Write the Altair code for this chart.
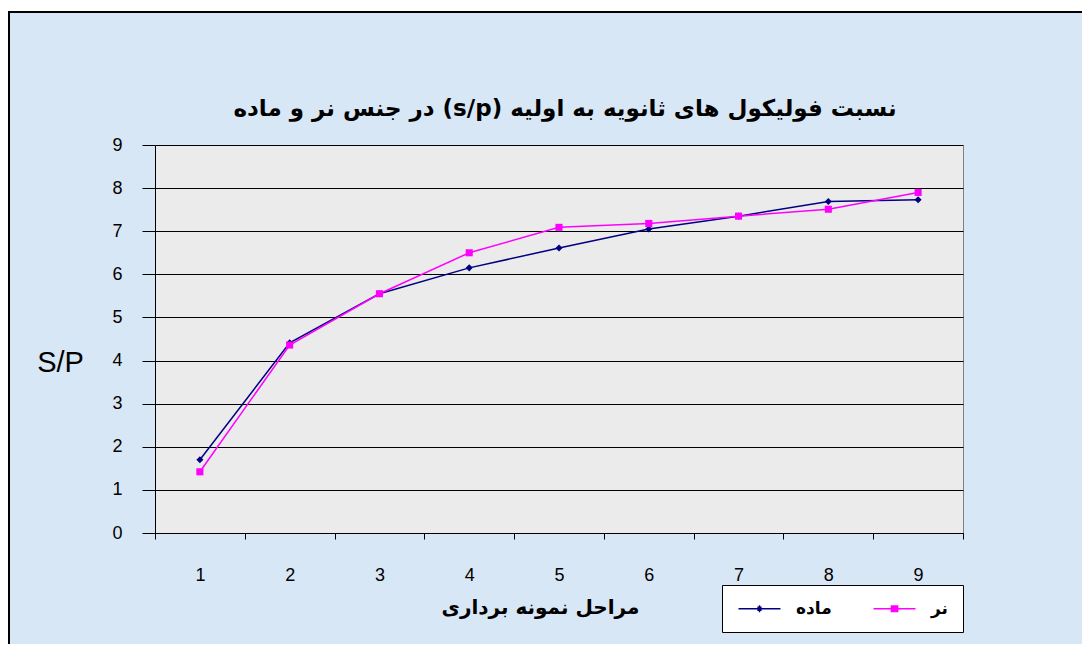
import altair as alt
import pandas as pd

# ---- data ----
stages = [1, 2, 3, 4, 5, 6, 7, 8, 9]
female = [1.70, 4.41, 5.55, 6.15, 6.61, 7.05, 7.35, 7.69, 7.73]   # ماده
male = [1.42, 4.36, 5.55, 6.50, 7.09, 7.18, 7.35, 7.51, 7.90]     # نر
series_names = ["ماده", "نر"]
series_colors = ["#000080", "#ff00ff"]
series_shapes = ["diamond", "square"]
y_ticks = [0, 1, 2, 3, 4, 5, 6, 7, 8, 9]

title_text = "نسبت فولیکول های ثانویه به اولیه (s/p) در جنس نر و ماده"
x_title = "مراحل نمونه برداری"
y_title = "S/P"

RLE, PDF = "\u202b", "\u202c"   # right-to-left embedding for the Persian title

# legend glyphs: a line with a marker drawn from stacked strokes
legend_shapes = [
    "M-3,0H3M-0.1,-0.4H0.1M-0.3,-0.2H0.3M-0.3,0.2H0.3M-0.1,0.4H0.1",
    "M-3,0H3M-0.55,-0.4H0.55M-0.55,-0.2H0.55M-0.55,0.2H0.55M-0.55,0.4H0.55",
]

df = pd.DataFrame({
    "stage": stages + stages,
    "value": female + male,
    "sex": [series_names[0]] * len(stages) + [series_names[1]] * len(stages),
})

W, H = 808, 388

x_enc = alt.X(
    "stage:O",
    scale=alt.Scale(type="band", paddingInner=0, paddingOuter=0),
    axis=alt.Axis(
        title=RLE + x_title + PDF, tickBand="extent", labelAngle=0, grid=False,
        domainColor="black", tickColor="black", tickSize=6,
        labelFont="Liberation Sans", labelFontSize=18, labelColor="black", labelPadding=27,
        titleFont="DejaVu Sans", titleFontSize=20, titleFontWeight="bold", titleColor="black",
        titleX=385, titleY=74, titleAlign="center", titleBaseline="middle",
    ),
)
y_enc = alt.Y(
    "value:Q",
    scale=alt.Scale(domain=[0, 9], nice=False),
    axis=alt.Axis(
        title=y_title, values=y_ticks, grid=True, gridColor="black", gridWidth=1,
        domainColor="black", tickColor="black", tickSize=13,
        labelFont="Liberation Sans", labelFontSize=18, labelColor="black", labelPadding=20,
        titleFont="Liberation Sans", titleFontSize=29, titleFontWeight="normal", titleColor="black",
        titleAngle=0, titleX=-95, titleY=217, titleAlign="center", titleBaseline="middle",
    ),
)

color_scale = alt.Scale(domain=series_names, range=series_colors)

lines = alt.Chart(df).mark_line(strokeWidth=1.5).encode(
    x=x_enc, y=y_enc, color=alt.Color("sex:N", scale=color_scale, legend=None))

points = alt.Chart(df).mark_point(filled=True, opacity=1, size=50).encode(
    x=x_enc, y=y_enc,
    color=alt.Color("sex:N", scale=color_scale, legend=None),
    shape=alt.Shape("sex:N", scale=alt.Scale(domain=series_names, range=series_shapes), legend=None),
)

legend_props = dict(
    title=None, orient="none", legendX=567, legendY=440, direction="horizontal",
    fillColor="white", strokeColor="black", padding=15,
    symbolSize=196, symbolOffset=14, labelOffset=28, columnPadding=38,
    symbolStrokeWidth=1.5, symbolOpacity=1,
    labelFont="DejaVu Sans", labelFontSize=17, labelFontWeight="bold", labelColor="black",
)

legend_layer = alt.Chart(df).mark_point(filled=False, opacity=0, size=196, strokeWidth=1.5).encode(
    x=x_enc, y=y_enc,
    color=alt.Color("sex:N", scale=color_scale, legend=alt.Legend(**legend_props)),
    shape=alt.Shape("sex:N", scale=alt.Scale(domain=series_names, range=legend_shapes),
                    legend=alt.Legend(**legend_props)),
)

deco = alt.Data(values=[{"k": 0}])
top_white = alt.Chart(deco).mark_rect(color="white").encode(
    x=alt.value(-150), x2=alt.value(1000), y=alt.value(-140), y2=alt.value(-134))
frame_top = alt.Chart(deco).mark_rule(color="black", strokeWidth=2).encode(
    x=alt.value(-147), x2=alt.value(1000), y=alt.value(-133))
frame_left = alt.Chart(deco).mark_rule(color="black", strokeWidth=2).encode(
    x=alt.value(-146), y=alt.value(-133), y2=alt.value(600))

chart = alt.layer(top_white, frame_top, frame_left, lines, points, legend_layer).resolve_scale(
    color="independent", shape="independent"
).properties(
    width=W, height=H,
    title=alt.TitleParams(
        text=RLE + title_text + PDF, anchor="middle", frame="group", offset=-127, baseline="middle",
        font="DejaVu Sans", fontSize=23, fontWeight="bold", color="black", dx=6,
    ),
    autosize=alt.AutoSizeParams(type="none"),
    padding={"left": 147, "top": 137, "right": 119, "bottom": 111},
).configure(
    background="#d8e7f5",
).configure_view(
    fill="#ebebeb", stroke="#808080", strokeWidth=1,
)

chart.save("out.html", embed_options={"renderer": "svg", "actions": False})
